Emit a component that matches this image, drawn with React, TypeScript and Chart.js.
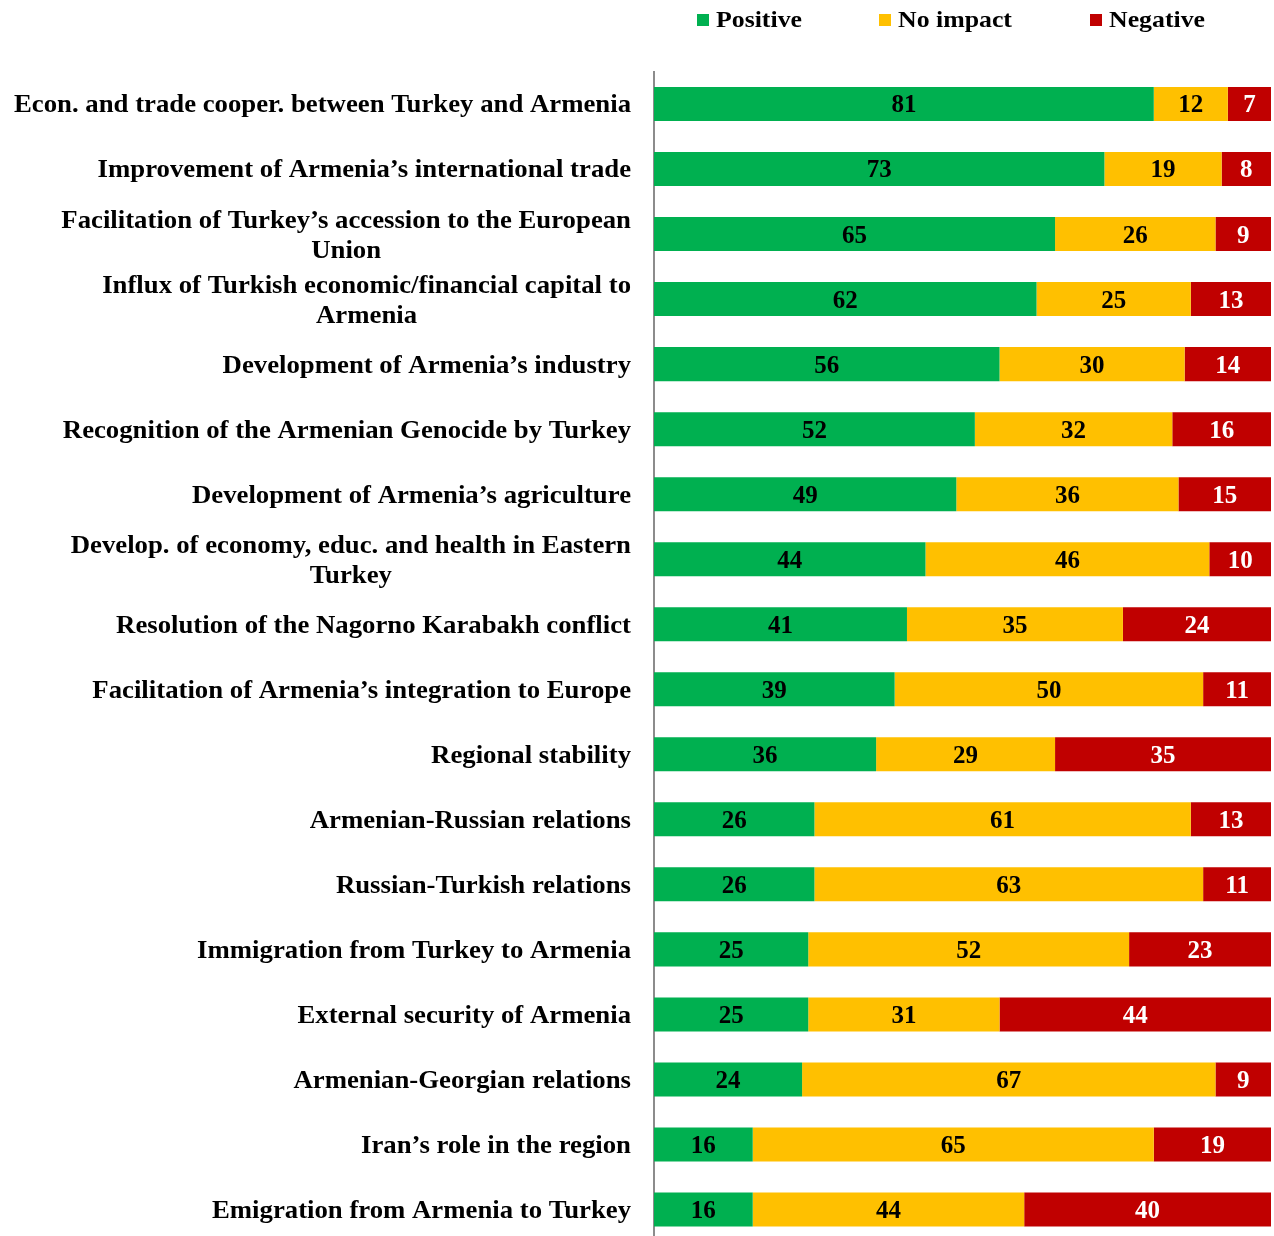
import React, { useEffect, useRef } from "react";
import { Chart, registerables } from "chart.js";

Chart.register(...registerables);

const categories: string[] = [
  "Econ. and trade cooper. between Turkey and Armenia",
  "Improvement of Armenia\u2019s international trade",
  "Facilitation of Turkey\u2019s accession to the European\nUnion",
  "Influx of Turkish economic/financial capital to\nArmenia",
  "Development of Armenia\u2019s industry",
  "Recognition of the Armenian Genocide by Turkey",
  "Development of Armenia\u2019s agriculture",
  "Develop. of economy, educ. and health in Eastern\nTurkey",
  "Resolution of the Nagorno Karabakh conflict",
  "Facilitation of Armenia\u2019s integration to Europe",
  "Regional stability",
  "Armenian-Russian relations",
  "Russian-Turkish relations",
  "Immigration from Turkey to Armenia",
  "External security of Armenia",
  "Armenian-Georgian relations",
  "Iran\u2019s role in the region",
  "Emigration from Armenia to Turkey",
];

const positive = [81, 73, 65, 62, 56, 52, 49, 44, 41, 39, 36, 26, 26, 25, 25, 24, 16, 16];
const noImpact = [12, 19, 26, 25, 30, 32, 36, 46, 35, 50, 29, 61, 63, 52, 31, 67, 65, 44];
const negative = [7, 8, 9, 13, 14, 16, 15, 10, 24, 11, 35, 13, 11, 23, 44, 9, 19, 40];

const seriesNames = ["Positive", "No impact", "Negative"];
const seriesColors = ["#00B050", "#FFC000", "#C00000"];
const labelColors = ["#000000", "#000000", "#FFFFFF"];

const FONT_FAMILY = "'Liberation Serif', 'Times New Roman', serif";
const LABEL_FONT = `bold 25px ${FONT_FAMILY}`;
const LABEL_SX = 1.07;
const VALUE_FONT = `bold 25px ${FONT_FAMILY}`;
const VALUE_SX = 1.0;
const LEGEND_FONT = `bold 24px ${FONT_FAMILY}`;
const LEGEND_SX = 1.075;

function drawScaledText(ctx: any, text: string, x: number, y: number, sx: number) {
  ctx.save();
  ctx.translate(x, y);
  ctx.scale(sx, 1);
  ctx.fillText(text, 0, 0);
  ctx.restore();
}

const categoryLabelsPlugin = {
  id: "categoryLabels",
  afterDraw(chart: any) {
    const ctx = chart.ctx;
    const yScale = chart.scales.y;
    const rightX = chart.chartArea.left - 23;
    ctx.save();
    ctx.font = LABEL_FONT;
    ctx.fillStyle = "#000";
    ctx.textBaseline = "middle";
    ctx.textAlign = "center";
    categories.forEach((label, i) => {
      const lines = label.split("\n");
      const widths = lines.map((l) => ctx.measureText(l).width * LABEL_SX);
      const maxW = Math.max(...widths);
      const cx = rightX - maxW / 2;
      const yc = yScale.getPixelForValue(i);
      const lh = 30;
      lines.forEach((l, j) => {
        const y = yc + (j - (lines.length - 1) / 2) * lh;
        drawScaledText(ctx, l, cx, y + 2, LABEL_SX);
      });
    });
    ctx.restore();
  },
};

const valueLabelsPlugin = {
  id: "valueLabels",
  afterDatasetsDraw(chart: any) {
    const ctx = chart.ctx;
    ctx.save();
    ctx.font = VALUE_FONT;
    ctx.textAlign = "center";
    ctx.textBaseline = "middle";
    chart.data.datasets.forEach((ds: any, di: number) => {
      const meta = chart.getDatasetMeta(di);
      meta.data.forEach((el: any, i: number) => {
        const props = el.getProps(["x", "y", "base"], true);
        const cx = (props.x + props.base) / 2;
        ctx.fillStyle = labelColors[di];
        drawScaledText(ctx, String(ds.data[i]), cx, props.y + 2, VALUE_SX);
      });
    });
    ctx.restore();
  },
};

const legendPlugin = {
  id: "customLegend",
  afterDraw(chart: any) {
    const ctx = chart.ctx;
    const left = chart.chartArea.left;
    const offsets = [43, 225, 436];
    const y = 20;
    ctx.save();
    ctx.font = LEGEND_FONT;
    ctx.textBaseline = "middle";
    ctx.textAlign = "left";
    seriesNames.forEach((name, i) => {
      const x = left + offsets[i];
      ctx.fillStyle = seriesColors[i];
      ctx.fillRect(x, y - 6, 12, 12);
      ctx.fillStyle = "#000";
      drawScaledText(ctx, name, x + 19, y + 1, LEGEND_SX);
    });
    ctx.restore();
  },
};

export default function App() {
  const canvasRef = useRef<HTMLCanvasElement | null>(null);

  useEffect(() => {
    if (!canvasRef.current) return;
    const chart = new Chart(canvasRef.current, {
      type: "bar",
      data: {
        labels: categories,
        datasets: [
          { label: seriesNames[0], data: positive, backgroundColor: seriesColors[0] },
          { label: seriesNames[1], data: noImpact, backgroundColor: seriesColors[1] },
          { label: seriesNames[2], data: negative, backgroundColor: seriesColors[2] },
        ],
      },
      options: {
        indexAxis: "y",
        responsive: false,
        animation: false,
        devicePixelRatio: 1,
        layout: { padding: { top: 71.5, right: 3, bottom: 0, left: 0 } },
        datasets: {
          bar: { categoryPercentage: 1, barPercentage: 0.523, borderWidth: 0 },
        },
        plugins: { legend: { display: false }, tooltip: { enabled: false } },
        scales: {
          x: { stacked: true, min: 0, max: 100, display: false },
          y: {
            stacked: true,
            grid: { display: false },
            border: { display: true, color: "#8c8c8c", width: 2 },
            ticks: { display: false },
            afterFit: (s: any) => {
              s.width = 654;
            },
          },
        },
      },
      plugins: [categoryLabelsPlugin, valueLabelsPlugin, legendPlugin],
    });
    return () => chart.destroy();
  }, []);

  return (
    <div style={{ position: "fixed", left: 0, top: 0, width: 1274, height: 1236, overflow: "hidden", background: "#fff" }}>
      <canvas ref={canvasRef} width={1274} height={1242} style={{ display: "block" }} />
    </div>
  );
}
